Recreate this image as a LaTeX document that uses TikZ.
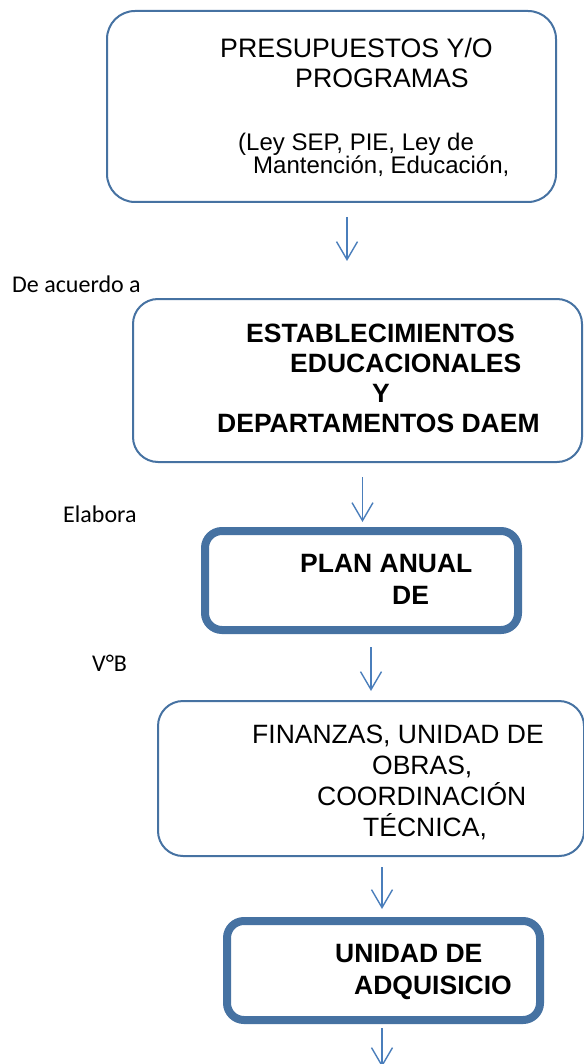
\documentclass[tikz,border=0pt]{standalone}
\usepackage{fontspec}
\setmainfont{Liberation Sans}
\newfontfamily\etiqfont{Carlito}
\usetikzlibrary{arrows.meta}
\definecolor{bordeazul}{HTML}{4672A2}
\definecolor{flechaazul}{HTML}{4A7EBB}
\tikzset{
caja/.style={draw=bordeazul,
  line width=2pt,
    outer sep=0pt,
    rounded corners=25pt},
cajagruesa/.style={draw=bordeazul,
  line width=8pt,
    outer sep=0pt,
    rounded corners=17pt,
    minimum width=313pt,
    minimum height=99pt},
texto/.style={anchor=north west, inner sep=0pt, align=left},
etiqueta/.style={anchor=base west, inner sep=0pt,
  font=\etiqfont\fontsize{24}{28}\selectfont},
flecha/.style={draw=flechaazul, line width=1.4pt,
  -{Straight Barb[length=18pt,width=21pt]}},
}
\begin{document}
\begin{tikzpicture}[x=1pt,y=-1pt]
  \useasboundingbox (0,0) rectangle (583,1064);

  % Boxes
  \node [caja, minimum width=449pt, minimum height=191pt, rounded corners=28pt] (presup) at (331.5,106.5) {};
  \node [caja, minimum width=449pt, minimum height=163pt] (establ) at (357.5,380.5) {};
  \node [cajagruesa] (plan) at (361.5,580.5) {};
  \node [caja, minimum width=426pt, minimum height=155pt] (finanzas) at (371,778.5) {};
  \node [cajagruesa] (adquis) at (383.5,970.5) {};

  % Box texts
  \node [texto, font=\fontsize{26.7}{30}\selectfont] (presuptit) at (220,38)
    {PRESUPUESTOS Y/O\\\hspace*{75pt}PROGRAMAS};
  \node [texto, font=\fontsize{24}{23}\selectfont] (presupley) at (238,133)
    {(Ley SEP, PIE, Ley de\\\hspace*{15pt}Mantención, Educación,};
  \node [texto, font=\bfseries\fontsize{26.5}{30}\selectfont] (estabtxt) at (217,324)
    {\hspace*{29pt}ESTABLECIMIENTOS\\\hspace*{73pt}EDUCACIONALES\\\hspace*{155pt}Y\\DEPARTAMENTOS DAEM};
  \node [texto, font=\bfseries\fontsize{26.5}{32}\selectfont] (plantxt) at (300,554)
    {PLAN ANUAL\\\hspace*{92pt}DE};
  \node [texto, font=\fontsize{26.5}{31}\selectfont] (finantxt) at (252,725)
    {FINANZAS, UNIDAD DE\\\hspace*{120pt}OBRAS,\\\hspace*{65pt}COORDINACIÓN\\\hspace*{111pt}TÉCNICA,};
  \node [texto, font=\bfseries\fontsize{26.5}{32}\selectfont] (adquistxt) at (335,944)
    {UNIDAD DE\\\hspace*{19pt}ADQUISICIO};

  % Side labels
  \node [etiqueta] (deacuerdo) at (12,293) {De acuerdo a};
  \node [etiqueta] (elabora) at (63,522) {Elabora};
  \node [etiqueta] (vb) at (92,671) {V°B};

  % Arrows
  \coordinate (salida) at (382,1067);
  \draw [flecha] ([xshift=15.5pt,yshift=-15pt]presup.south) -- ([xshift=-10.5pt,yshift=38pt]establ.north);
  \draw [flecha] ([xshift=5pt,yshift=-15pt]establ.south) -- ([xshift=1pt,yshift=9pt]plan.north);
  \draw [flecha] ([xshift=9.5pt,yshift=-17pt]plan.south) -- ([xshift=0pt,yshift=10pt]finanzas.north);
  \draw [flecha] ([xshift=11pt,yshift=-11pt]finanzas.south) -- ([xshift=-1.5pt,yshift=12pt]adquis.north);
  \draw [flecha] ([xshift=-1.5pt,yshift=-8pt]adquis.south) -- (salida);
\end{tikzpicture}
\end{document}
